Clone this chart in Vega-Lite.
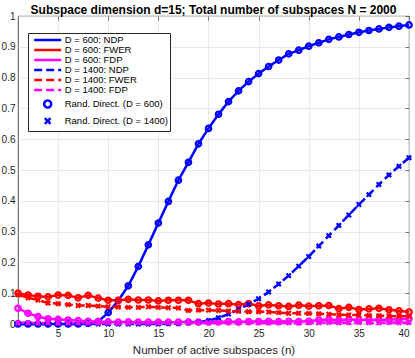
{
  "$schema": "https://vega.github.io/schema/vega-lite/v6.json",
  "width": 391,
  "height": 308,
  "autosize": "none",
  "padding": {"left": 18, "top": 16, "right": 6, "bottom": 34},
  "title": {"text": "Subspace dimension d=15; Total number of subspaces N = 2000", "fontSize": 12, "fontWeight": "bold", "font": "Liberation Sans", "color": "#000000", "offset": -6},
  "config": {
    "view": {"stroke": "#262626", "strokeWidth": 0.8},
    "font": "Liberation Sans",
    "axis": {"labelFont": "Liberation Sans", "labelFontSize": 10, "labelColor": "#262626", "titleFont": "Liberation Sans", "titleFontSize": 11.5, "titleFontWeight": "normal", "titleColor": "#262626", "domain": false}
  },
  "datasets": {
    "curves": [
      {"n":1,"label":"D = 600: NDP","marker":"Rand. Direct. (D = 600)","v":0},
      {"n":2,"label":"D = 600: NDP","marker":"Rand. Direct. (D = 600)","v":0},
      {"n":3,"label":"D = 600: NDP","marker":"Rand. Direct. (D = 600)","v":0},
      {"n":4,"label":"D = 600: NDP","marker":"Rand. Direct. (D = 600)","v":0},
      {"n":5,"label":"D = 600: NDP","marker":"Rand. Direct. (D = 600)","v":0},
      {"n":6,"label":"D = 600: NDP","marker":"Rand. Direct. (D = 600)","v":0},
      {"n":7,"label":"D = 600: NDP","marker":"Rand. Direct. (D = 600)","v":0},
      {"n":8,"label":"D = 600: NDP","marker":"Rand. Direct. (D = 600)","v":0.002},
      {"n":9,"label":"D = 600: NDP","marker":"Rand. Direct. (D = 600)","v":0.008},
      {"n":10,"label":"D = 600: NDP","marker":"Rand. Direct. (D = 600)","v":0.037},
      {"n":11,"label":"D = 600: NDP","marker":"Rand. Direct. (D = 600)","v":0.076},
      {"n":12,"label":"D = 600: NDP","marker":"Rand. Direct. (D = 600)","v":0.124},
      {"n":13,"label":"D = 600: NDP","marker":"Rand. Direct. (D = 600)","v":0.187},
      {"n":14,"label":"D = 600: NDP","marker":"Rand. Direct. (D = 600)","v":0.257},
      {"n":15,"label":"D = 600: NDP","marker":"Rand. Direct. (D = 600)","v":0.328},
      {"n":16,"label":"D = 600: NDP","marker":"Rand. Direct. (D = 600)","v":0.398},
      {"n":17,"label":"D = 600: NDP","marker":"Rand. Direct. (D = 600)","v":0.467},
      {"n":18,"label":"D = 600: NDP","marker":"Rand. Direct. (D = 600)","v":0.525},
      {"n":19,"label":"D = 600: NDP","marker":"Rand. Direct. (D = 600)","v":0.585},
      {"n":20,"label":"D = 600: NDP","marker":"Rand. Direct. (D = 600)","v":0.635},
      {"n":21,"label":"D = 600: NDP","marker":"Rand. Direct. (D = 600)","v":0.681},
      {"n":22,"label":"D = 600: NDP","marker":"Rand. Direct. (D = 600)","v":0.722},
      {"n":23,"label":"D = 600: NDP","marker":"Rand. Direct. (D = 600)","v":0.757},
      {"n":24,"label":"D = 600: NDP","marker":"Rand. Direct. (D = 600)","v":0.787},
      {"n":25,"label":"D = 600: NDP","marker":"Rand. Direct. (D = 600)","v":0.813},
      {"n":26,"label":"D = 600: NDP","marker":"Rand. Direct. (D = 600)","v":0.836},
      {"n":27,"label":"D = 600: NDP","marker":"Rand. Direct. (D = 600)","v":0.857},
      {"n":28,"label":"D = 600: NDP","marker":"Rand. Direct. (D = 600)","v":0.877},
      {"n":29,"label":"D = 600: NDP","marker":"Rand. Direct. (D = 600)","v":0.889},
      {"n":30,"label":"D = 600: NDP","marker":"Rand. Direct. (D = 600)","v":0.902},
      {"n":31,"label":"D = 600: NDP","marker":"Rand. Direct. (D = 600)","v":0.913},
      {"n":32,"label":"D = 600: NDP","marker":"Rand. Direct. (D = 600)","v":0.924},
      {"n":33,"label":"D = 600: NDP","marker":"Rand. Direct. (D = 600)","v":0.932},
      {"n":34,"label":"D = 600: NDP","marker":"Rand. Direct. (D = 600)","v":0.940},
      {"n":35,"label":"D = 600: NDP","marker":"Rand. Direct. (D = 600)","v":0.947},
      {"n":36,"label":"D = 600: NDP","marker":"Rand. Direct. (D = 600)","v":0.953},
      {"n":37,"label":"D = 600: NDP","marker":"Rand. Direct. (D = 600)","v":0.958},
      {"n":38,"label":"D = 600: NDP","marker":"Rand. Direct. (D = 600)","v":0.963},
      {"n":39,"label":"D = 600: NDP","marker":"Rand. Direct. (D = 600)","v":0.967},
      {"n":40,"label":"D = 600: NDP","marker":"Rand. Direct. (D = 600)","v":0.971},

      {"n":1,"label":"D = 600: FWER","marker":"Rand. Direct. (D = 600)","v":0.100},
      {"n":2,"label":"D = 600: FWER","marker":"Rand. Direct. (D = 600)","v":0.094},
      {"n":3,"label":"D = 600: FWER","marker":"Rand. Direct. (D = 600)","v":0.090},
      {"n":4,"label":"D = 600: FWER","marker":"Rand. Direct. (D = 600)","v":0.088},
      {"n":5,"label":"D = 600: FWER","marker":"Rand. Direct. (D = 600)","v":0.094},
      {"n":6,"label":"D = 600: FWER","marker":"Rand. Direct. (D = 600)","v":0.093},
      {"n":7,"label":"D = 600: FWER","marker":"Rand. Direct. (D = 600)","v":0.085},
      {"n":8,"label":"D = 600: FWER","marker":"Rand. Direct. (D = 600)","v":0.093},
      {"n":9,"label":"D = 600: FWER","marker":"Rand. Direct. (D = 600)","v":0.084},
      {"n":10,"label":"D = 600: FWER","marker":"Rand. Direct. (D = 600)","v":0.077},
      {"n":11,"label":"D = 600: FWER","marker":"Rand. Direct. (D = 600)","v":0.077},
      {"n":12,"label":"D = 600: FWER","marker":"Rand. Direct. (D = 600)","v":0.080},
      {"n":13,"label":"D = 600: FWER","marker":"Rand. Direct. (D = 600)","v":0.078},
      {"n":14,"label":"D = 600: FWER","marker":"Rand. Direct. (D = 600)","v":0.078},
      {"n":15,"label":"D = 600: FWER","marker":"Rand. Direct. (D = 600)","v":0.075},
      {"n":16,"label":"D = 600: FWER","marker":"Rand. Direct. (D = 600)","v":0.077},
      {"n":17,"label":"D = 600: FWER","marker":"Rand. Direct. (D = 600)","v":0.077},
      {"n":18,"label":"D = 600: FWER","marker":"Rand. Direct. (D = 600)","v":0.077},
      {"n":19,"label":"D = 600: FWER","marker":"Rand. Direct. (D = 600)","v":0.066},
      {"n":20,"label":"D = 600: FWER","marker":"Rand. Direct. (D = 600)","v":0.068},
      {"n":21,"label":"D = 600: FWER","marker":"Rand. Direct. (D = 600)","v":0.065},
      {"n":22,"label":"D = 600: FWER","marker":"Rand. Direct. (D = 600)","v":0.066},
      {"n":23,"label":"D = 600: FWER","marker":"Rand. Direct. (D = 600)","v":0.063},
      {"n":24,"label":"D = 600: FWER","marker":"Rand. Direct. (D = 600)","v":0.066},
      {"n":25,"label":"D = 600: FWER","marker":"Rand. Direct. (D = 600)","v":0.059},
      {"n":26,"label":"D = 600: FWER","marker":"Rand. Direct. (D = 600)","v":0.062},
      {"n":27,"label":"D = 600: FWER","marker":"Rand. Direct. (D = 600)","v":0.059},
      {"n":28,"label":"D = 600: FWER","marker":"Rand. Direct. (D = 600)","v":0.057},
      {"n":29,"label":"D = 600: FWER","marker":"Rand. Direct. (D = 600)","v":0.061},
      {"n":30,"label":"D = 600: FWER","marker":"Rand. Direct. (D = 600)","v":0.058},
      {"n":31,"label":"D = 600: FWER","marker":"Rand. Direct. (D = 600)","v":0.059},
      {"n":32,"label":"D = 600: FWER","marker":"Rand. Direct. (D = 600)","v":0.060},
      {"n":33,"label":"D = 600: FWER","marker":"Rand. Direct. (D = 600)","v":0.050},
      {"n":34,"label":"D = 600: FWER","marker":"Rand. Direct. (D = 600)","v":0.054},
      {"n":35,"label":"D = 600: FWER","marker":"Rand. Direct. (D = 600)","v":0.047},
      {"n":36,"label":"D = 600: FWER","marker":"Rand. Direct. (D = 600)","v":0.049},
      {"n":37,"label":"D = 600: FWER","marker":"Rand. Direct. (D = 600)","v":0.051},
      {"n":38,"label":"D = 600: FWER","marker":"Rand. Direct. (D = 600)","v":0.046},
      {"n":39,"label":"D = 600: FWER","marker":"Rand. Direct. (D = 600)","v":0.043},
      {"n":40,"label":"D = 600: FWER","marker":"Rand. Direct. (D = 600)","v":0.039},

      {"n":1,"label":"D = 600: FDP","marker":"Rand. Direct. (D = 600)","v":0.051},
      {"n":2,"label":"D = 600: FDP","marker":"Rand. Direct. (D = 600)","v":0.035},
      {"n":3,"label":"D = 600: FDP","marker":"Rand. Direct. (D = 600)","v":0.024},
      {"n":4,"label":"D = 600: FDP","marker":"Rand. Direct. (D = 600)","v":0.017},
      {"n":5,"label":"D = 600: FDP","marker":"Rand. Direct. (D = 600)","v":0.015},
      {"n":6,"label":"D = 600: FDP","marker":"Rand. Direct. (D = 600)","v":0.013},
      {"n":7,"label":"D = 600: FDP","marker":"Rand. Direct. (D = 600)","v":0.011},
      {"n":8,"label":"D = 600: FDP","marker":"Rand. Direct. (D = 600)","v":0.009},
      {"n":9,"label":"D = 600: FDP","marker":"Rand. Direct. (D = 600)","v":0.008},
      {"n":10,"label":"D = 600: FDP","marker":"Rand. Direct. (D = 600)","v":0.007},
      {"n":11,"label":"D = 600: FDP","marker":"Rand. Direct. (D = 600)","v":0.006},
      {"n":12,"label":"D = 600: FDP","marker":"Rand. Direct. (D = 600)","v":0.007},
      {"n":13,"label":"D = 600: FDP","marker":"Rand. Direct. (D = 600)","v":0.006},
      {"n":14,"label":"D = 600: FDP","marker":"Rand. Direct. (D = 600)","v":0.006},
      {"n":15,"label":"D = 600: FDP","marker":"Rand. Direct. (D = 600)","v":0.006},
      {"n":16,"label":"D = 600: FDP","marker":"Rand. Direct. (D = 600)","v":0.006},
      {"n":17,"label":"D = 600: FDP","marker":"Rand. Direct. (D = 600)","v":0.006},
      {"n":18,"label":"D = 600: FDP","marker":"Rand. Direct. (D = 600)","v":0.007},
      {"n":19,"label":"D = 600: FDP","marker":"Rand. Direct. (D = 600)","v":0.006},
      {"n":20,"label":"D = 600: FDP","marker":"Rand. Direct. (D = 600)","v":0.007},
      {"n":21,"label":"D = 600: FDP","marker":"Rand. Direct. (D = 600)","v":0.007},
      {"n":22,"label":"D = 600: FDP","marker":"Rand. Direct. (D = 600)","v":0.008},
      {"n":23,"label":"D = 600: FDP","marker":"Rand. Direct. (D = 600)","v":0.007},
      {"n":24,"label":"D = 600: FDP","marker":"Rand. Direct. (D = 600)","v":0.008},
      {"n":25,"label":"D = 600: FDP","marker":"Rand. Direct. (D = 600)","v":0.008},
      {"n":26,"label":"D = 600: FDP","marker":"Rand. Direct. (D = 600)","v":0.009},
      {"n":27,"label":"D = 600: FDP","marker":"Rand. Direct. (D = 600)","v":0.008},
      {"n":28,"label":"D = 600: FDP","marker":"Rand. Direct. (D = 600)","v":0.009},
      {"n":29,"label":"D = 600: FDP","marker":"Rand. Direct. (D = 600)","v":0.008},
      {"n":30,"label":"D = 600: FDP","marker":"Rand. Direct. (D = 600)","v":0.009},
      {"n":31,"label":"D = 600: FDP","marker":"Rand. Direct. (D = 600)","v":0.013},
      {"n":32,"label":"D = 600: FDP","marker":"Rand. Direct. (D = 600)","v":0.015},
      {"n":33,"label":"D = 600: FDP","marker":"Rand. Direct. (D = 600)","v":0.012},
      {"n":34,"label":"D = 600: FDP","marker":"Rand. Direct. (D = 600)","v":0.015},
      {"n":35,"label":"D = 600: FDP","marker":"Rand. Direct. (D = 600)","v":0.013},
      {"n":36,"label":"D = 600: FDP","marker":"Rand. Direct. (D = 600)","v":0.014},
      {"n":37,"label":"D = 600: FDP","marker":"Rand. Direct. (D = 600)","v":0.013},
      {"n":38,"label":"D = 600: FDP","marker":"Rand. Direct. (D = 600)","v":0.015},
      {"n":39,"label":"D = 600: FDP","marker":"Rand. Direct. (D = 600)","v":0.014},
      {"n":40,"label":"D = 600: FDP","marker":"Rand. Direct. (D = 600)","v":0.018},

      {"n":1,"label":"D = 1400: NDP","marker":"Rand. Direct. (D = 1400)","v":0},
      {"n":2,"label":"D = 1400: NDP","marker":"Rand. Direct. (D = 1400)","v":0},
      {"n":3,"label":"D = 1400: NDP","marker":"Rand. Direct. (D = 1400)","v":0},
      {"n":4,"label":"D = 1400: NDP","marker":"Rand. Direct. (D = 1400)","v":0},
      {"n":5,"label":"D = 1400: NDP","marker":"Rand. Direct. (D = 1400)","v":0},
      {"n":6,"label":"D = 1400: NDP","marker":"Rand. Direct. (D = 1400)","v":0},
      {"n":7,"label":"D = 1400: NDP","marker":"Rand. Direct. (D = 1400)","v":0},
      {"n":8,"label":"D = 1400: NDP","marker":"Rand. Direct. (D = 1400)","v":0},
      {"n":9,"label":"D = 1400: NDP","marker":"Rand. Direct. (D = 1400)","v":0},
      {"n":10,"label":"D = 1400: NDP","marker":"Rand. Direct. (D = 1400)","v":0},
      {"n":11,"label":"D = 1400: NDP","marker":"Rand. Direct. (D = 1400)","v":0},
      {"n":12,"label":"D = 1400: NDP","marker":"Rand. Direct. (D = 1400)","v":0},
      {"n":13,"label":"D = 1400: NDP","marker":"Rand. Direct. (D = 1400)","v":0},
      {"n":14,"label":"D = 1400: NDP","marker":"Rand. Direct. (D = 1400)","v":0},
      {"n":15,"label":"D = 1400: NDP","marker":"Rand. Direct. (D = 1400)","v":0},
      {"n":16,"label":"D = 1400: NDP","marker":"Rand. Direct. (D = 1400)","v":0.001},
      {"n":17,"label":"D = 1400: NDP","marker":"Rand. Direct. (D = 1400)","v":0.001},
      {"n":18,"label":"D = 1400: NDP","marker":"Rand. Direct. (D = 1400)","v":0.003},
      {"n":19,"label":"D = 1400: NDP","marker":"Rand. Direct. (D = 1400)","v":0.006},
      {"n":20,"label":"D = 1400: NDP","marker":"Rand. Direct. (D = 1400)","v":0.011},
      {"n":21,"label":"D = 1400: NDP","marker":"Rand. Direct. (D = 1400)","v":0.020},
      {"n":22,"label":"D = 1400: NDP","marker":"Rand. Direct. (D = 1400)","v":0.032},
      {"n":23,"label":"D = 1400: NDP","marker":"Rand. Direct. (D = 1400)","v":0.047},
      {"n":24,"label":"D = 1400: NDP","marker":"Rand. Direct. (D = 1400)","v":0.064},
      {"n":25,"label":"D = 1400: NDP","marker":"Rand. Direct. (D = 1400)","v":0.082},
      {"n":26,"label":"D = 1400: NDP","marker":"Rand. Direct. (D = 1400)","v":0.104},
      {"n":27,"label":"D = 1400: NDP","marker":"Rand. Direct. (D = 1400)","v":0.130},
      {"n":28,"label":"D = 1400: NDP","marker":"Rand. Direct. (D = 1400)","v":0.157},
      {"n":29,"label":"D = 1400: NDP","marker":"Rand. Direct. (D = 1400)","v":0.188},
      {"n":30,"label":"D = 1400: NDP","marker":"Rand. Direct. (D = 1400)","v":0.219},
      {"n":31,"label":"D = 1400: NDP","marker":"Rand. Direct. (D = 1400)","v":0.253},
      {"n":32,"label":"D = 1400: NDP","marker":"Rand. Direct. (D = 1400)","v":0.287},
      {"n":33,"label":"D = 1400: NDP","marker":"Rand. Direct. (D = 1400)","v":0.320},
      {"n":34,"label":"D = 1400: NDP","marker":"Rand. Direct. (D = 1400)","v":0.354},
      {"n":35,"label":"D = 1400: NDP","marker":"Rand. Direct. (D = 1400)","v":0.388},
      {"n":36,"label":"D = 1400: NDP","marker":"Rand. Direct. (D = 1400)","v":0.420},
      {"n":37,"label":"D = 1400: NDP","marker":"Rand. Direct. (D = 1400)","v":0.453},
      {"n":38,"label":"D = 1400: NDP","marker":"Rand. Direct. (D = 1400)","v":0.484},
      {"n":39,"label":"D = 1400: NDP","marker":"Rand. Direct. (D = 1400)","v":0.512},
      {"n":40,"label":"D = 1400: NDP","marker":"Rand. Direct. (D = 1400)","v":0.540},

      {"n":1,"label":"D = 1400: FWER","marker":"Rand. Direct. (D = 1400)","v":0.095},
      {"n":2,"label":"D = 1400: FWER","marker":"Rand. Direct. (D = 1400)","v":0.085},
      {"n":3,"label":"D = 1400: FWER","marker":"Rand. Direct. (D = 1400)","v":0.078},
      {"n":4,"label":"D = 1400: FWER","marker":"Rand. Direct. (D = 1400)","v":0.068},
      {"n":5,"label":"D = 1400: FWER","marker":"Rand. Direct. (D = 1400)","v":0.066},
      {"n":6,"label":"D = 1400: FWER","marker":"Rand. Direct. (D = 1400)","v":0.063},
      {"n":7,"label":"D = 1400: FWER","marker":"Rand. Direct. (D = 1400)","v":0.060},
      {"n":8,"label":"D = 1400: FWER","marker":"Rand. Direct. (D = 1400)","v":0.060},
      {"n":9,"label":"D = 1400: FWER","marker":"Rand. Direct. (D = 1400)","v":0.058},
      {"n":10,"label":"D = 1400: FWER","marker":"Rand. Direct. (D = 1400)","v":0.056},
      {"n":11,"label":"D = 1400: FWER","marker":"Rand. Direct. (D = 1400)","v":0.055},
      {"n":12,"label":"D = 1400: FWER","marker":"Rand. Direct. (D = 1400)","v":0.054},
      {"n":13,"label":"D = 1400: FWER","marker":"Rand. Direct. (D = 1400)","v":0.054},
      {"n":14,"label":"D = 1400: FWER","marker":"Rand. Direct. (D = 1400)","v":0.056},
      {"n":15,"label":"D = 1400: FWER","marker":"Rand. Direct. (D = 1400)","v":0.054},
      {"n":16,"label":"D = 1400: FWER","marker":"Rand. Direct. (D = 1400)","v":0.053},
      {"n":17,"label":"D = 1400: FWER","marker":"Rand. Direct. (D = 1400)","v":0.052},
      {"n":18,"label":"D = 1400: FWER","marker":"Rand. Direct. (D = 1400)","v":0.044},
      {"n":19,"label":"D = 1400: FWER","marker":"Rand. Direct. (D = 1400)","v":0.045},
      {"n":20,"label":"D = 1400: FWER","marker":"Rand. Direct. (D = 1400)","v":0.045},
      {"n":21,"label":"D = 1400: FWER","marker":"Rand. Direct. (D = 1400)","v":0.044},
      {"n":22,"label":"D = 1400: FWER","marker":"Rand. Direct. (D = 1400)","v":0.042},
      {"n":23,"label":"D = 1400: FWER","marker":"Rand. Direct. (D = 1400)","v":0.041},
      {"n":24,"label":"D = 1400: FWER","marker":"Rand. Direct. (D = 1400)","v":0.040},
      {"n":25,"label":"D = 1400: FWER","marker":"Rand. Direct. (D = 1400)","v":0.040},
      {"n":26,"label":"D = 1400: FWER","marker":"Rand. Direct. (D = 1400)","v":0.039},
      {"n":27,"label":"D = 1400: FWER","marker":"Rand. Direct. (D = 1400)","v":0.037},
      {"n":28,"label":"D = 1400: FWER","marker":"Rand. Direct. (D = 1400)","v":0.035},
      {"n":29,"label":"D = 1400: FWER","marker":"Rand. Direct. (D = 1400)","v":0.035},
      {"n":30,"label":"D = 1400: FWER","marker":"Rand. Direct. (D = 1400)","v":0.034},
      {"n":31,"label":"D = 1400: FWER","marker":"Rand. Direct. (D = 1400)","v":0.033},
      {"n":32,"label":"D = 1400: FWER","marker":"Rand. Direct. (D = 1400)","v":0.032},
      {"n":33,"label":"D = 1400: FWER","marker":"Rand. Direct. (D = 1400)","v":0.030},
      {"n":34,"label":"D = 1400: FWER","marker":"Rand. Direct. (D = 1400)","v":0.029},
      {"n":35,"label":"D = 1400: FWER","marker":"Rand. Direct. (D = 1400)","v":0.029},
      {"n":36,"label":"D = 1400: FWER","marker":"Rand. Direct. (D = 1400)","v":0.028},
      {"n":37,"label":"D = 1400: FWER","marker":"Rand. Direct. (D = 1400)","v":0.027},
      {"n":38,"label":"D = 1400: FWER","marker":"Rand. Direct. (D = 1400)","v":0.026},
      {"n":39,"label":"D = 1400: FWER","marker":"Rand. Direct. (D = 1400)","v":0.025},
      {"n":40,"label":"D = 1400: FWER","marker":"Rand. Direct. (D = 1400)","v":0.025},

      {"n":1,"label":"D = 1400: FDP","marker":"Rand. Direct. (D = 1400)","v":0.004},
      {"n":2,"label":"D = 1400: FDP","marker":"Rand. Direct. (D = 1400)","v":0.004},
      {"n":3,"label":"D = 1400: FDP","marker":"Rand. Direct. (D = 1400)","v":0.003},
      {"n":4,"label":"D = 1400: FDP","marker":"Rand. Direct. (D = 1400)","v":0.004},
      {"n":5,"label":"D = 1400: FDP","marker":"Rand. Direct. (D = 1400)","v":0.003},
      {"n":6,"label":"D = 1400: FDP","marker":"Rand. Direct. (D = 1400)","v":0.003},
      {"n":7,"label":"D = 1400: FDP","marker":"Rand. Direct. (D = 1400)","v":0.004},
      {"n":8,"label":"D = 1400: FDP","marker":"Rand. Direct. (D = 1400)","v":0.003},
      {"n":9,"label":"D = 1400: FDP","marker":"Rand. Direct. (D = 1400)","v":0.003},
      {"n":10,"label":"D = 1400: FDP","marker":"Rand. Direct. (D = 1400)","v":0.004},
      {"n":11,"label":"D = 1400: FDP","marker":"Rand. Direct. (D = 1400)","v":0.003},
      {"n":12,"label":"D = 1400: FDP","marker":"Rand. Direct. (D = 1400)","v":0.003},
      {"n":13,"label":"D = 1400: FDP","marker":"Rand. Direct. (D = 1400)","v":0.004},
      {"n":14,"label":"D = 1400: FDP","marker":"Rand. Direct. (D = 1400)","v":0.003},
      {"n":15,"label":"D = 1400: FDP","marker":"Rand. Direct. (D = 1400)","v":0.003},
      {"n":16,"label":"D = 1400: FDP","marker":"Rand. Direct. (D = 1400)","v":0.004},
      {"n":17,"label":"D = 1400: FDP","marker":"Rand. Direct. (D = 1400)","v":0.003},
      {"n":18,"label":"D = 1400: FDP","marker":"Rand. Direct. (D = 1400)","v":0.004},
      {"n":19,"label":"D = 1400: FDP","marker":"Rand. Direct. (D = 1400)","v":0.004},
      {"n":20,"label":"D = 1400: FDP","marker":"Rand. Direct. (D = 1400)","v":0.003},
      {"n":21,"label":"D = 1400: FDP","marker":"Rand. Direct. (D = 1400)","v":0.004},
      {"n":22,"label":"D = 1400: FDP","marker":"Rand. Direct. (D = 1400)","v":0.004},
      {"n":23,"label":"D = 1400: FDP","marker":"Rand. Direct. (D = 1400)","v":0.003},
      {"n":24,"label":"D = 1400: FDP","marker":"Rand. Direct. (D = 1400)","v":0.004},
      {"n":25,"label":"D = 1400: FDP","marker":"Rand. Direct. (D = 1400)","v":0.004},
      {"n":26,"label":"D = 1400: FDP","marker":"Rand. Direct. (D = 1400)","v":0.003},
      {"n":27,"label":"D = 1400: FDP","marker":"Rand. Direct. (D = 1400)","v":0.004},
      {"n":28,"label":"D = 1400: FDP","marker":"Rand. Direct. (D = 1400)","v":0.004},
      {"n":29,"label":"D = 1400: FDP","marker":"Rand. Direct. (D = 1400)","v":0.003},
      {"n":30,"label":"D = 1400: FDP","marker":"Rand. Direct. (D = 1400)","v":0.004},
      {"n":31,"label":"D = 1400: FDP","marker":"Rand. Direct. (D = 1400)","v":0.004},
      {"n":32,"label":"D = 1400: FDP","marker":"Rand. Direct. (D = 1400)","v":0.005},
      {"n":33,"label":"D = 1400: FDP","marker":"Rand. Direct. (D = 1400)","v":0.004},
      {"n":34,"label":"D = 1400: FDP","marker":"Rand. Direct. (D = 1400)","v":0.004},
      {"n":35,"label":"D = 1400: FDP","marker":"Rand. Direct. (D = 1400)","v":0.005},
      {"n":36,"label":"D = 1400: FDP","marker":"Rand. Direct. (D = 1400)","v":0.004},
      {"n":37,"label":"D = 1400: FDP","marker":"Rand. Direct. (D = 1400)","v":0.004},
      {"n":38,"label":"D = 1400: FDP","marker":"Rand. Direct. (D = 1400)","v":0.005},
      {"n":39,"label":"D = 1400: FDP","marker":"Rand. Direct. (D = 1400)","v":0.004},
      {"n":40,"label":"D = 1400: FDP","marker":"Rand. Direct. (D = 1400)","v":0.005}
    ]
  },
  "data": {"name": "curves"},
  "layer": [
    {
      "mark": {"type": "line", "strokeWidth": 2.5, "strokeCap": "butt"},
      "encoding": {
        "x": {"field": "n", "type": "quantitative", "scale": {"domain": [1, 40], "nice": false}, "axis": {"orient": "bottom", "title": "Number of active subspaces (n)", "values": [5,10,15,20,25,30,35,40], "grid": true, "gridColor": "#e3e3e3", "gridWidth": 0.8, "ticks": false, "labelPadding": 4, "titlePadding": 6}},
        "y": {"field": "v", "type": "quantitative", "scale": {"domain": [0, 1], "nice": false}, "axis": {"orient": "left", "title": null, "values": [0,0.1,0.2,0.3,0.4,0.5,0.6,0.7,0.8,0.9,1], "format": ".1~f", "grid": true, "gridColor": "#e3e3e3", "gridWidth": 0.8, "ticks": false, "labelPadding": 3}},
        "color": {"field": "label", "type": "nominal",
          "scale": {"domain": ["D = 600: NDP","D = 600: FWER","D = 600: FDP","D = 1400: NDP","D = 1400: FWER","D = 1400: FDP","Rand. Direct. (D = 600)","Rand. Direct. (D = 1400)"],
                    "range": ["#0000ff","#ff0000","#ff00ff","#0000ff","#ff0000","#ff00ff","#0000ff","#0000ff"]},
          "legend": {"title": null, "orient": "none", "legendX": 10, "legendY": 17, "padding": 2, "rowPadding": 0, "labelFont": "Liberation Sans", "labelFontSize": 9.5, "labelColor": "#000000", "symbolSize": 49, "symbolStrokeWidth": 2.5, "symbolOffset": 12.7, "labelOffset": 12, "strokeColor": "#262626", "fillColor": "#ffffff"}},
        "strokeDash": {"field": "label", "type": "nominal",
          "scale": {"domain": ["D = 600: NDP","D = 600: FWER","D = 600: FDP","D = 1400: NDP","D = 1400: FWER","D = 1400: FDP","Rand. Direct. (D = 600)","Rand. Direct. (D = 1400)"],
                    "range": [[1,0],[1,0],[1,0],[8,4],[8,4],[8,4],[1,0],[1,0]]},
          "legend": {"title": null}}
      }
    },
    {
      "mark": {"type": "point", "filled": false, "size": 30, "strokeWidth": 2.2, "opacity": 1},
      "encoding": {
        "x": {"field": "n", "type": "quantitative", "axis": {"orient": "top", "title": null, "labels": false, "grid": false, "values": [5,10,15,20,25,30,35,40], "tickSize": -4, "tickColor": "#262626", "tickWidth": 0.6}},
        "y": {"field": "v", "type": "quantitative", "axis": {"orient": "right", "title": null, "labels": false, "grid": false, "values": [0,0.1,0.2,0.3,0.4,0.5,0.6,0.7,0.8,0.9,1], "tickSize": -4, "tickColor": "#262626", "tickWidth": 0.6}},
        "color": {"field": "label", "type": "nominal",
          "scale": {"domain": ["D = 600: NDP","D = 600: FWER","D = 600: FDP","D = 1400: NDP","D = 1400: FWER","D = 1400: FDP","Rand. Direct. (D = 600)","Rand. Direct. (D = 1400)"],
                    "range": ["#0000ff","#ff0000","#ff00ff","#0000ff","#ff0000","#ff00ff","#0000ff","#0000ff"]}},
        "shape": {"field": "marker", "type": "nominal",
          "scale": {"domain": ["D = 600: NDP","D = 600: FWER","D = 600: FDP","D = 1400: NDP","D = 1400: FWER","D = 1400: FDP","Rand. Direct. (D = 600)","Rand. Direct. (D = 1400)"],
                    "range": ["M-3.86,0H3.86","M-3.86,0H3.86","M-3.86,0H3.86","M-3.86,0H3.86","M-3.86,0H3.86","M-3.86,0H3.86","circle","M-0.8,-0.8L0.8,0.8M-0.8,0.8L0.8,-0.8"]},
          "legend": {"title": null}}
      }
    }
  ],
  "resolve": {"axis": {"x": "independent", "y": "independent"}}
}
